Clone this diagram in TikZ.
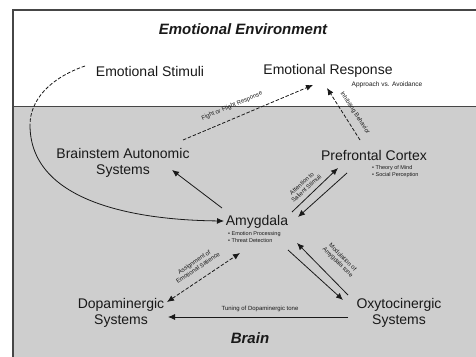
\documentclass[tikz,border=0pt]{standalone}
\usepackage{fontspec}
\setmainfont{Liberation Sans}
\usetikzlibrary{arrows.meta}
\definecolor{braingray}{RGB}{206,206,206}
\definecolor{framegray}{RGB}{70,70,70}
\definecolor{ink}{RGB}{25,25,25}
\tikzset{
  big/.style={font=\fontsize{14}{16}\selectfont, inner sep=0pt, align=center, text=ink},
  title/.style={font=\fontsize{15}{17}\selectfont\bfseries\itshape, inner sep=0pt, text=ink},
  small/.style={font=\fontsize{6.5}{7.5}\selectfont, inner sep=0pt, text=ink},
  bullets/.style={font=\fontsize{5.5}{7}\selectfont, inner sep=0pt, align=left, text=ink},
  lbl/.style={font=\fontsize{6}{6.8}\selectfont, inner sep=0pt, align=center, text=ink},
  conn/.style={line width=0.8pt, draw=ink, -{Latex[length=7pt,width=6pt]}},
  dconn/.style={conn, dash pattern=on 3.5pt off 1.8pt},
}
\begin{document}
\begin{tikzpicture}[x=1pt,y=-1pt]
\useasboundingbox (0,0) rectangle (476,356);
% background
\fill[white] (0,0) rectangle (476,356);
\fill[braingray] (13,106) rectangle (480,360);
\draw[framegray, line width=0.6pt] (13,106) -- (480,106);
\draw[framegray, line width=1.8pt] (13,360) -- (13,10) -- (480,10);
% nodes
\node[title] (env) at (243,29) {Emotional Environment};
\node[big] (stim) at (150,71) {Emotional Stimuli};
\node[big] (resp) at (328,71) {Emotional Response};
\node[small] (appr) at (387,85) {Approach vs. Avoidance};
\node[big] (brain) at (123,163) {Brainstem Autonomic\\Systems};
\node[big] (pfc) at (374,155) {Prefrontal Cortex};
\node[bullets, anchor=west] (pfcb) at (372,172) {\textbullet\ Theory of Mind\\\textbullet\ Social Perception};
\node[big] (amy) at (257,222) {Amygdala};
\node[bullets, anchor=west] (amyb) at (228,237.5) {\textbullet\ Emotion Processing\\\textbullet\ Threat Detection};
\node[big] (dop) at (121,313) {Dopaminergic\\Systems};
\node[big] (oxy) at (399,313) {Oxytocinergic\\Systems};
\node[title] (brainlbl) at (250,338) {Brain};
% connectors
\coordinate (bend) at (30,125);
\draw[line width=0.8pt, draw=ink, dash pattern=on 3.5pt off 1.8pt]
  ([shift={(-65,-5)}]stim.center) .. controls (50,78) and (30,100) .. (bend);
\draw[conn] (bend) .. controls (30,200) and (130,220) .. ([shift={(-33,-1)}]amy.center);
\draw[dconn] ([shift={(60,-23)}]brain.center) -- ([shift={(-15,14)}]resp.center);
\draw[dconn] ([shift={(-14,-15)}]pfc.center) -- ([shift={(-1,17)}]resp.center);
\draw[conn] ([shift={(-35,-14)}]amy.center) -- ([shift={(49,7)}]brain.center);
\draw[conn] ([shift={(35,-10)}]amy.center) -- ([shift={(-36,13)}]pfc.center);
\draw[conn] ([shift={(-27,18)}]pfc.center) -- ([shift={(41,-5)}]amy.center);
\draw[dconn, {Latex[length=7pt,width=6pt]}-{Latex[length=7pt,width=6pt]}] ([shift={(46,-11)}]dop.center) -- ([shift={(-17,31)}]amy.center);
\draw[conn] ([shift={(-51,-18)}]oxy.center) -- ([shift={(40,21)}]amy.center);
\draw[conn] ([shift={(31,28)}]amy.center) -- ([shift={(-56,-13)}]oxy.center);
\draw[conn] ([shift={(-51,4)}]oxy.center) -- ([shift={(47,4)}]dop.center);
% connector labels
\node[lbl, rotate=23] (lff) at (232,106) {Fight or Flight Response};
\node[lbl, rotate=-57] (linh) at (355,113) {Inhibiting Behavior};
\node[lbl, rotate=42] (latt) at (304,186) {Attention to\\Salient Stimuli};
\node[lbl, rotate=34] (lass) at (196,265) {Assignment of\\Emotional Salience};
\node[lbl, rotate=-45] (lmod) at (340,260) {Modulation of\\Amygdala tone};
\node[lbl] (ltun) at (260,309) {Tuning of Dopaminergic tone};
\end{tikzpicture}
\end{document}
